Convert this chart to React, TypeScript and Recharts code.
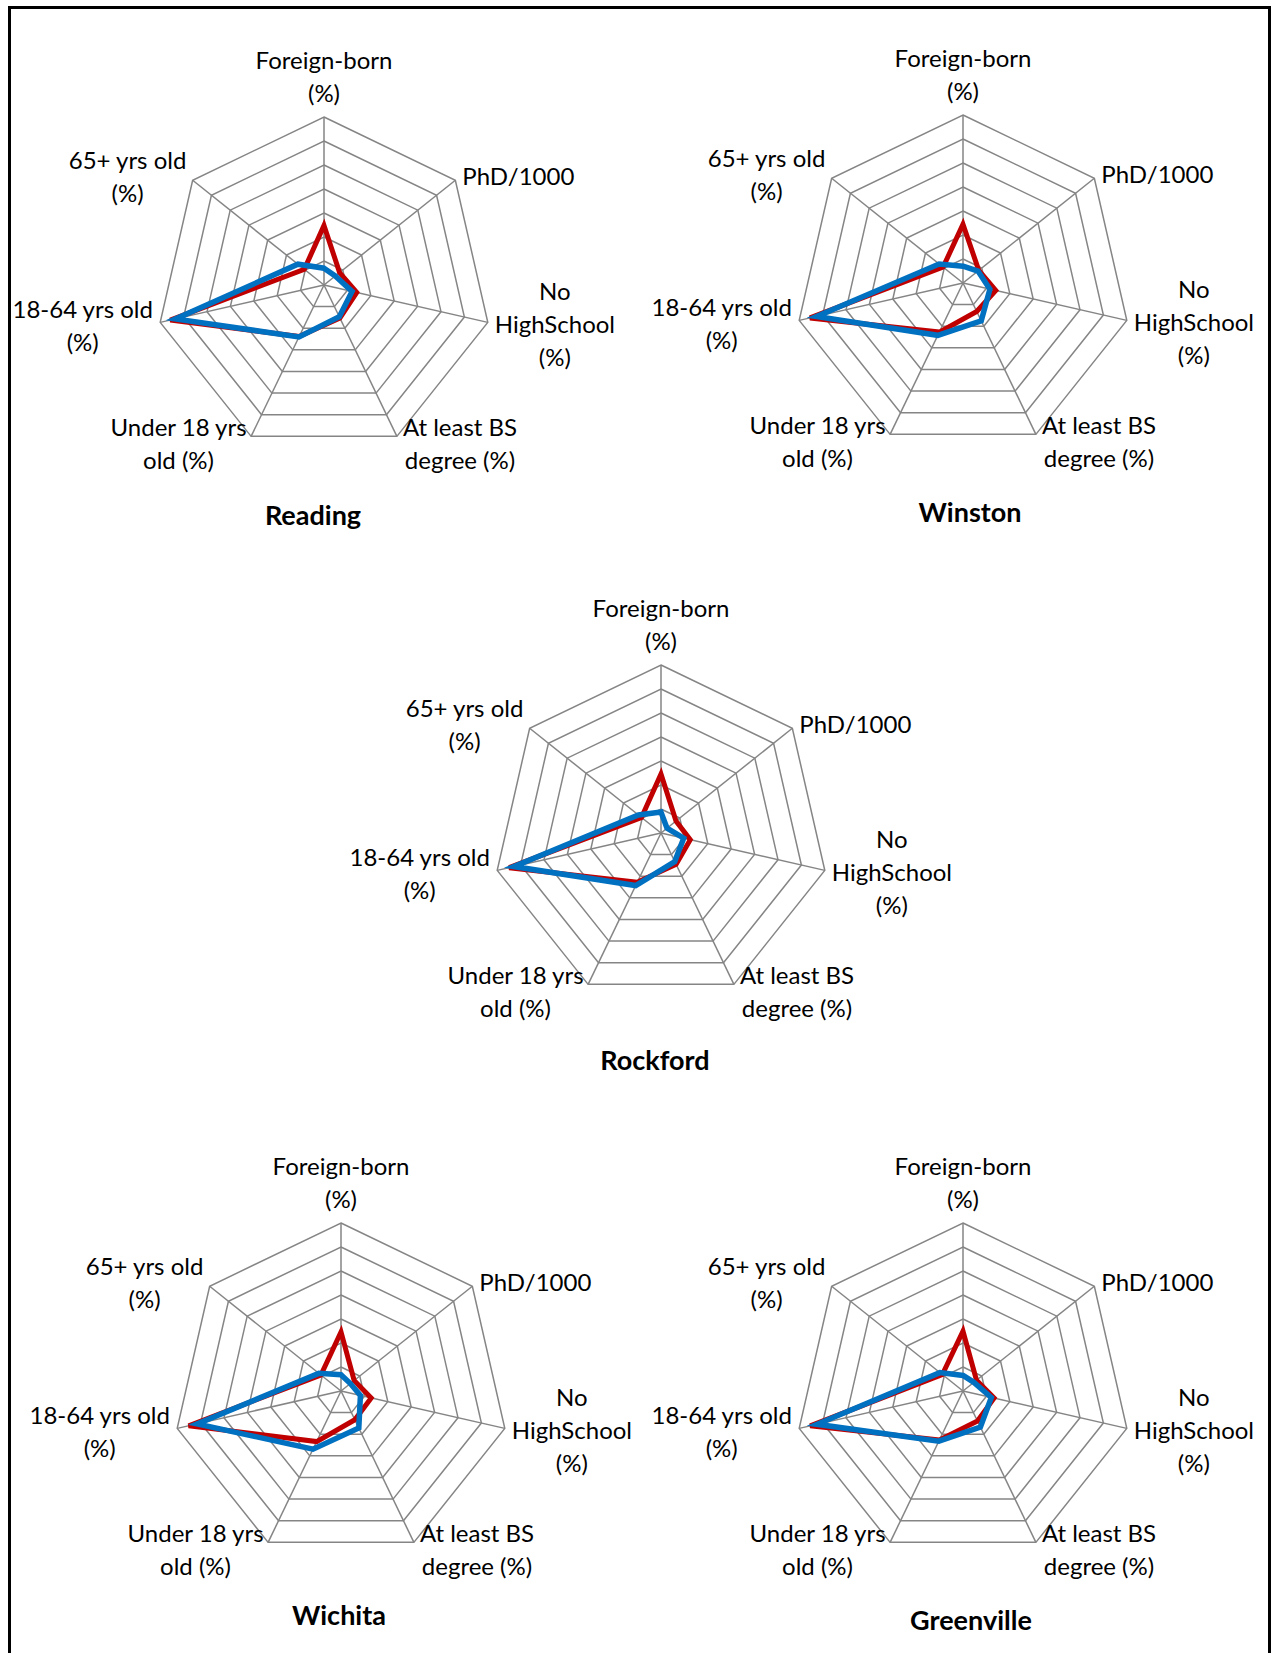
import React from 'react';
import { RadarChart, Radar, PolarGrid, PolarAngleAxis, PolarRadiusAxis } from 'recharts';

// axis categories (clockwise from the top)
const AXES = [
  'Foreign-born\n(%)',
  'PhD/1000',
  'No\nHighSchool\n(%)',
  'At least BS\ndegree (%)',
  'Under 18 yrs\nold (%)',
  '18-64 yrs old\n(%)',
  '65+ yrs old\n(%)',
];

const RADIUS_TICKS = [0, 10, 20, 30, 40, 50, 60, 70];

// red = comparison profile, blue = city profile
const readingRed = [24.8, 8.3, 14, 15.3, 23.8, 65.7, 10.5];
const readingBlue = [7, 6, 12, 14.7, 24, 63.5, 13.9];
const winstonRed = [24.5, 8.4, 14, 13.2, 22.7, 65.4, 10.6];
const winstonBlue = [7, 8, 11.5, 17.5, 24.2, 62.6, 12.7];
const rockfordRed = [24.6, 8, 12.5, 14.5, 22.8, 64.9, 10.4];
const rockfordBlue = [8.7, 3.2, 9.7, 13.2, 24.3, 62.8, 12];
const wichitaRed = [24.6, 7, 12.9, 13.3, 23.4, 65.1, 10.7];
const wichitaBlue = [6.8, 5, 8.3, 17.1, 26.9, 61.5, 11.8];
const greenvilleRed = [24.9, 7.2, 13.3, 13.9, 22.6, 65.3, 11];
const greenvilleBlue = [6.5, 5.8, 12.1, 16.7, 23.2, 62.4, 12.3];

const CITY_NAMES = ['Reading', 'Winston', 'Rockford', 'Wichita', 'Greenville'];
const CITY_RED = [readingRed, winstonRed, rockfordRed, wichitaRed, greenvilleRed];
const CITY_BLUE = [readingBlue, winstonBlue, rockfordBlue, wichitaBlue, greenvilleBlue];

// page layout: chart centre and title centre
const LAYOUT = [
  { cx: 324, cy: 285, tx: 313, ty: 515 },
  { cx: 963, cy: 283, tx: 970, ty: 512 },
  { cx: 661, cy: 833, tx: 655, ty: 1060 },
  { cx: 341, cy: 1391, tx: 339, ty: 1615 },
  { cx: 963, cy: 1391, tx: 971, ty: 1620 },
];

const R = 168;
const W = 660;
const H = 600;
const CCX = W / 2;
const CCY = 300;

const FONT = 'Lato, "Open Sans", sans-serif';
const LABEL_SIZE = 24;
const LINE_H = 33;

// where each axis label sits relative to its outer vertex
const PLACE = [
  { side: 'top', gap: 24, dy: 0 },
  { side: 'right', gap: 7, dy: -4 },
  { side: 'right', gap: 7, dy: 2 },
  { side: 'right', gap: 6, dy: 7 },
  { side: 'left', gap: 4, dy: 7 },
  { side: 'left', gap: 7, dy: 3 },
  { side: 'left', gap: 6, dy: -3 },
];

let ctx: CanvasRenderingContext2D | null = null;
const measure = (text: string) => {
  if (!ctx) ctx = document.createElement('canvas').getContext('2d');
  if (!ctx) return text.length * LABEL_SIZE * 0.5;
  ctx.font = `${LABEL_SIZE}px Lato`;
  return ctx.measureText(text).width;
};

const AxisLabel = (props: any) => {
  const { payload } = props;
  const index = props.index ?? payload.index ?? 0;
  const ang = (payload.coordinate * Math.PI) / 180;
  const vx = CCX + R * Math.cos(ang);
  const vy = CCY - R * Math.sin(ang);
  const lines = String(payload.value).split('\n');
  const w = Math.max(...lines.map(measure));
  const p = PLACE[index];
  let x = vx;
  let y0 = 0;
  if (p.side === 'top') {
    y0 = vy - p.gap - (lines.length - 1) * LINE_H;
  } else {
    x = p.side === 'right' ? vx + p.gap + w / 2 : vx - p.gap - w / 2;
    y0 = vy + p.dy - ((lines.length - 1) * LINE_H) / 2;
  }
  return (
    <text textAnchor="middle" fontFamily={FONT} fontSize={LABEL_SIZE} fill="#000">
      {lines.map((l, k) => (
        <tspan key={k} x={x} y={y0 + k * LINE_H + LABEL_SIZE * 0.36}>
          {l}
        </tspan>
      ))}
    </text>
  );
};

const CityRadar = ({ idx }: { idx: number }) => {
  const data = AXES.map((axis, i) => ({ axis, red: CITY_RED[idx][i], blue: CITY_BLUE[idx][i] }));
  const pos = LAYOUT[idx];
  return (
    <>
      <div style={{ position: 'absolute', left: pos.cx - CCX, top: pos.cy - CCY, width: W, height: H }}>
        <RadarChart width={W} height={H} data={data} cx={CCX} cy={CCY} outerRadius={R} margin={{ top: 0, right: 0, bottom: 0, left: 0 }}>
          <PolarGrid gridType="polygon" stroke="#858585" strokeWidth={1.5} />
          <PolarAngleAxis dataKey="axis" tick={(p: any) => <AxisLabel {...p} />} tickLine={false} axisLine={false} />
          <PolarRadiusAxis domain={[0, 70]} ticks={RADIUS_TICKS as any} tickCount={8} tick={false} axisLine={false} />
          <Radar dataKey="red" stroke="#C00000" strokeWidth={5} fill="none" fillOpacity={0} dot={false} isAnimationActive={false} />
          <Radar dataKey="blue" stroke="#0070C0" strokeWidth={5.5} fill="none" fillOpacity={0} dot={false} isAnimationActive={false} />
        </RadarChart>
      </div>
      <div
        style={{
          position: 'absolute',
          left: pos.tx - 150,
          top: pos.ty - 20,
          width: 300,
          height: 40,
          lineHeight: '40px',
          textAlign: 'center',
          fontFamily: FONT,
          fontWeight: 'bold',
          fontSize: 27,
          color: '#000',
        }}
      >
        {CITY_NAMES[idx]}
      </div>
    </>
  );
};

export default function App() {
  return (
    <div style={{ position: 'absolute', left: 0, top: 0, width: 1272, height: 1653, overflow: 'hidden', background: '#fff' }}>
      <div
        style={{
          position: 'absolute',
          left: 8,
          top: 6,
          width: 1263,
          height: 1700,
          border: '3px solid #000',
          boxSizing: 'border-box',
        }}
      />
      {CITY_NAMES.map((_, i) => (
        <CityRadar key={i} idx={i} />
      ))}
    </div>
  );
}
